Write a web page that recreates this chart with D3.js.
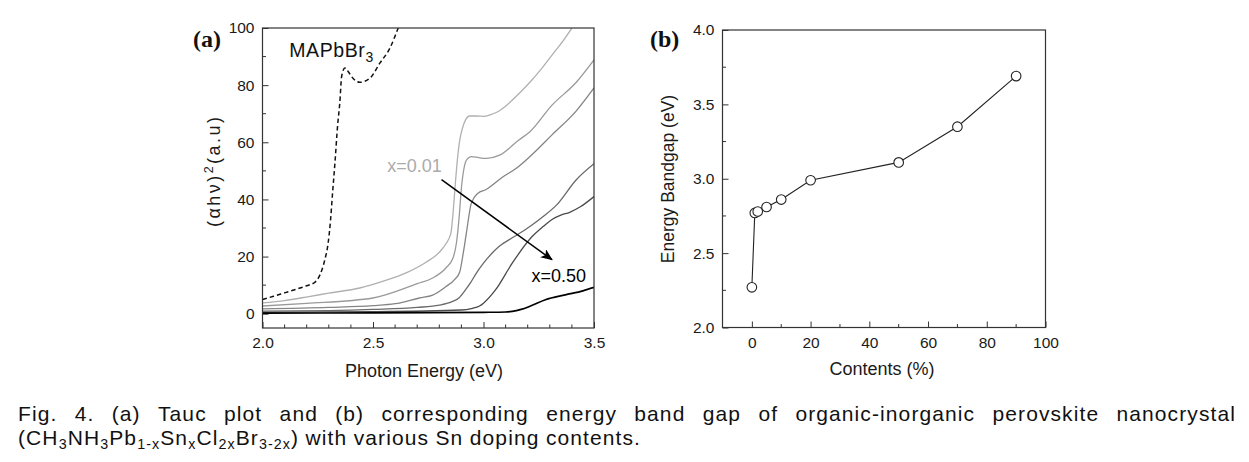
<!DOCTYPE html>
<html>
<head>
<meta charset="utf-8">
<script src="https://cdn.jsdelivr.net/npm/d3@7"></script>
<style>
  html, body { margin: 0; padding: 0; background: #fff; }
  svg { display: block; font-family: "Liberation Sans", Arial, Helvetica, sans-serif; }
</style>
</head>
<body>
<svg id="chart" width="1249" height="462"></svg>
<script>
// ---------------- DATA ----------------
// Panel (a): Tauc plot, photon energy (eV) vs (αhν)^2 (a.u.)
const mapbbr3E = [2.00, 2.05, 2.10, 2.15, 2.20, 2.237, 2.26, 2.282, 2.297, 2.308, 2.317, 2.328, 2.34, 2.35, 2.358, 2.373, 2.39, 2.403, 2.44, 2.486, 2.53, 2.576, 2.614];
const mapbbr3V = [5.0, 6.1, 7.3, 8.5, 9.8, 11.0, 13.6, 18.9, 24.7, 32.9, 42.2, 53.0, 66.0, 74.0, 83.0, 86.0, 84.5, 83.0, 81.0, 82.4, 87.6, 92.9, 100.0];

const sn001E = [2.00, 2.10, 2.21, 2.30, 2.44, 2.55, 2.65, 2.74, 2.80, 2.83, 2.852, 2.862, 2.872, 2.882, 2.892, 2.905, 2.92, 2.937, 2.97, 3.00, 3.03, 3.06, 3.105, 3.16, 3.21, 3.26, 3.31, 3.36, 3.40];
const sn001V = [3.8, 4.6, 6.0, 7.2, 9.0, 11.5, 14.3, 18.0, 21.5, 24.5, 28.0, 35.0, 45.0, 54.0, 60.5, 65.0, 68.0, 69.2, 69.2, 69.1, 69.6, 70.5, 73.0, 77.0, 81.0, 85.5, 90.5, 95.5, 100.0];

const sn002E = [2.00, 2.20, 2.50, 2.70, 2.77, 2.83, 2.862, 2.878, 2.89, 2.90, 2.912, 2.925, 2.945, 2.98, 3.013, 3.073, 3.16, 3.21, 3.31, 3.42, 3.50];
const sn002V = [2.7, 3.6, 5.5, 10.5, 12.5, 16.0, 19.5, 25.0, 34.0, 44.0, 51.0, 54.0, 55.0, 54.6, 54.4, 55.5, 60.8, 63.7, 73.0, 81.0, 88.8];

const sn005E = [2.00, 2.30, 2.50, 2.60, 2.71, 2.77, 2.83, 2.87, 2.892, 2.91, 2.923, 2.945, 2.975, 3.01, 3.09, 3.15, 3.21, 3.31, 3.42, 3.50];
const sn005V = [1.7, 2.2, 2.8, 3.5, 5.5, 6.5, 9.5, 12.0, 14.5, 22.0, 28.5, 38.7, 42.2, 43.4, 48.0, 51.0, 55.0, 62.6, 71.0, 79.0];

const sn010E = [2.00, 2.30, 2.50, 2.70, 2.80, 2.86, 2.89, 2.92, 2.94, 2.97, 3.00, 3.07, 3.14, 3.21, 3.27, 3.33, 3.42, 3.50];
const sn010V = [0.9, 1.1, 1.5, 2.2, 3.0, 4.3, 5.6, 8.5, 10.7, 14.5, 17.7, 23.5, 27.0, 30.5, 34.0, 38.0, 46.9, 52.5];

const sn020E = [2.00, 2.50, 2.90, 2.95, 2.98, 3.00, 3.055, 3.13, 3.22, 3.27, 3.31, 3.35, 3.39, 3.44, 3.50];
const sn020V = [0.5, 0.7, 1.3, 1.9, 2.6, 3.7, 8.4, 17.7, 27.0, 30.5, 33.0, 34.5, 35.5, 37.5, 41.0];

const sn050E = [2.00, 2.50, 3.00, 3.10, 3.13, 3.17, 3.21, 3.28, 3.37, 3.45, 3.50];
const sn050V = [0.2, 0.3, 0.5, 0.6, 0.8, 1.5, 2.6, 4.9, 6.6, 8.0, 9.2];

const seriesNames = ["x=0.01", "x=0.02", "x=0.05", "x=0.10", "x=0.20", "x=0.50"];

// Arrow (from x=0.01 label toward x=0.50 label) in data units
const arrowE = [2.81, 3.31];
const arrowV = [46.9, 18.9];

// Panel (b): Sn contents (%) vs energy bandgap (eV)
const contents = [0, 1, 2, 5, 10, 20, 50, 70, 90];
const bandgap  = [2.27, 2.77, 2.78, 2.81, 2.86, 2.99, 3.11, 3.35, 3.69];

// Tick values
const aXTicks = [2.0, 2.5, 3.0, 3.5];
const aXMinor = [2.1, 2.2, 2.3, 2.4, 2.6, 2.7, 2.8, 2.9, 3.1, 3.2, 3.3, 3.4];
const aYTicks = [0, 20, 40, 60, 80, 100];
const aYMinor = [10, 30, 50, 70, 90];
const bXTicks = [0, 20, 40, 60, 80, 100];
const bXMinor = [10, 30, 50, 70, 90];
const bYTicks = [2.0, 2.5, 3.0, 3.5, 4.0];
const bYMinor = [2.25, 2.75, 3.25, 3.75];

// ---------------- DRAW ----------------
const svg = d3.select("#chart");
const ink = "#1a1a1a";
const tickFont = 15.5;
const SANS = '"Liberation Sans", Arial, Helvetica, sans-serif';
const SERIF = '"Liberation Serif", "Times New Roman", serif';

// Panel A scales
const xA = d3.scaleLinear().domain([2.0, 3.5]).range([262.5, 594]);
const yA = d3.scaleLinear().domain([-5, 100]).range([328, 28]);
// Panel B scales
const xB = d3.scaleLinear().domain([-10, 100]).range([722.5, 1045.5]);
const yB = d3.scaleLinear().domain([2, 4]).range([327.5, 30]);

function styleAxis(g) {
  g.select(".domain").remove();
  g.selectAll(".tick line").attr("stroke", "#333").attr("stroke-width", 1);
  g.selectAll(".tick text").attr("fill", ink).style("font-size", tickFont + "px").style("font-family", SANS);
}

function drawFrame(x, y) {
  const [x0, x1] = x.range(), [y0, y1] = y.range();
  svg.append("rect").attr("x", x0).attr("y", y1).attr("width", x1 - x0).attr("height", y0 - y1)
    .attr("fill", "none").attr("stroke", "#333").attr("stroke-width", 1.2);
}

function drawAxes(x, y, xMaj, xMin, yMaj, yMin, xFmt, yFmt) {
  const [x0, x1] = x.range(), [y0, y1] = y.range();
  // minor ticks (inward)
  const g = svg.append("g").attr("stroke", "#333").attr("stroke-width", 1);
  g.selectAll("line.mx").data(xMin).join("line").attr("class", "mx")
    .attr("x1", d => x(d)).attr("x2", d => x(d)).attr("y1", y0).attr("y2", y0 - 3.5);
  g.selectAll("line.my").data(yMin).join("line").attr("class", "my")
    .attr("y1", d => y(d)).attr("y2", d => y(d)).attr("x1", x0).attr("x2", x0 + 3.5);
  // major
  svg.append("g").attr("transform", `translate(0,${y0})`)
    .call(d3.axisBottom(x).tickValues(xMaj).tickSize(-6).tickPadding(9).tickFormat(xFmt))
    .call(styleAxis);
  svg.append("g").attr("transform", `translate(${x0},0)`)
    .call(d3.axisLeft(y).tickValues(yMaj).tickSize(-6).tickPadding(8).tickFormat(yFmt))
    .call(styleAxis);
}

// ---------- Panel A ----------
drawAxes(xA, yA, aXTicks, aXMinor, aYTicks, aYMinor, d3.format(".1f"), d3.format("d"));

const defs = svg.append("defs");
defs.append("clipPath").attr("id", "clipA").append("rect")
  .attr("x", xA.range()[0]).attr("y", yA.range()[1])
  .attr("width", xA.range()[1] - xA.range()[0]).attr("height", yA.range()[0] - yA.range()[1]);
defs.append("marker").attr("id", "arrowHead")
  .attr("viewBox", "0 0 12 10").attr("refX", 11).attr("refY", 5)
  .attr("markerWidth", 12).attr("markerHeight", 10)
  .attr("markerUnits", "userSpaceOnUse").attr("orient", "auto")
  .append("path").attr("d", "M0,0 L12,5 L0,10 L3,5 Z").attr("fill", "#000");

const lineA = d3.line().x(d => xA(d[0])).y(d => yA(d[1])).curve(d3.curveMonotoneX);
const zip = (a, b) => a.map((v, i) => [v, b[i]]);

const plotA = svg.append("g").attr("clip-path", "url(#clipA)");
const snSeries = [
  { name: seriesNames[0], pts: zip(sn001E, sn001V), color: "#b0b0b0", w: 1.3 },
  { name: seriesNames[1], pts: zip(sn002E, sn002V), color: "#9a9a9a", w: 1.3 },
  { name: seriesNames[2], pts: zip(sn005E, sn005V), color: "#858585", w: 1.3 },
  { name: seriesNames[3], pts: zip(sn010E, sn010V), color: "#6a6a6a", w: 1.3 },
  { name: seriesNames[4], pts: zip(sn020E, sn020V), color: "#4a4a4a", w: 1.3 },
  { name: seriesNames[5], pts: zip(sn050E, sn050V), color: "#000000", w: 1.7 }
];
plotA.selectAll("path.sn").data(snSeries).join("path").attr("class", "sn")
  .attr("d", d => lineA(d.pts)).attr("fill", "none")
  .attr("stroke", d => d.color).attr("stroke-width", d => d.w);
plotA.append("path").attr("d", lineA(zip(mapbbr3E, mapbbr3V)))
  .attr("fill", "none").attr("stroke", "#111").attr("stroke-width", 1.5)
  .attr("stroke-dasharray", "4.5,3");

// arrow
svg.append("line")
  .attr("x1", xA(arrowE[0])).attr("y1", yA(arrowV[0]))
  .attr("x2", xA(arrowE[1])).attr("y2", yA(arrowV[1]))
  .attr("stroke", "#000").attr("stroke-width", 1.5).attr("marker-end", "url(#arrowHead)");

// labels in panel A
const mapLbl = svg.append("text").attr("x", xA(2.121)).attr("y", yA(90)).style("font-size", "19.5px")
  .attr("letter-spacing", 0.6).attr("fill", "#111");
mapLbl.append("tspan").text("MAPbBr");
mapLbl.append("tspan").text("3").style("font-size", "14px").attr("dy", 5);

svg.append("text").attr("x", xA(2.564)).attr("y", yA(49.7)).style("font-size", "18px")
  .attr("fill", "#ababab").text(seriesNames[0]);
svg.append("text").attr("x", xA(3.217)).attr("y", yA(11.2)).style("font-size", "18px")
  .attr("fill", "#000").text(seriesNames[5]);

drawFrame(xA, yA);

// axis titles A
svg.append("text").attr("x", 424).attr("y", 377)
  .attr("text-anchor", "middle").style("font-size", "18px").attr("fill", ink).text("Photon Energy (eV)");
const yTitleA = svg.append("text").attr("transform", `translate(220,172) rotate(-90)`)
  .attr("text-anchor", "middle").style("font-size", "18px").attr("fill", ink)
  .attr("textLength", 110).attr("lengthAdjust", "spacing");
yTitleA.append("tspan").text("(αhν)");
yTitleA.append("tspan").text("2").style("font-size", "12.5px").attr("dy", -7.5);
yTitleA.append("tspan").text("(a.u)").attr("dy", 7.5);

svg.append("text").attr("x", 193).attr("y", 47).style("font-family", SERIF)
  .style("font-weight", "bold").style("font-size", "24px").attr("fill", "#111").text("(a)");

// ---------- Panel B ----------
drawAxes(xB, yB, bXTicks, bXMinor, bYTicks, bYMinor, d3.format("d"), d3.format(".1f"));
drawFrame(xB, yB);

const ptsB = zip(contents, bandgap);
svg.append("path").attr("d", d3.line().x(d => xB(d[0])).y(d => yB(d[1]))(ptsB))
  .attr("fill", "none").attr("stroke", "#222").attr("stroke-width", 1.1);
svg.selectAll("circle.pt").data(ptsB).join("circle").attr("class", "pt")
  .attr("cx", d => xB(d[0])).attr("cy", d => yB(d[1])).attr("r", 4.8)
  .attr("fill", "#fff").attr("stroke", "#222").attr("stroke-width", 1.1);

svg.append("text").attr("x", 882).attr("y", 375)
  .attr("text-anchor", "middle").style("font-size", "18px").attr("fill", ink).text("Contents (%)");
svg.append("text").attr("transform", `translate(674,179) rotate(-90)`)
  .attr("text-anchor", "middle").style("font-size", "17.5px").attr("fill", ink).text("Energy Bandgap (eV)");
svg.append("text").attr("x", 650).attr("y", 47).style("font-family", SERIF)
  .style("font-weight", "bold").style("font-size", "24px").attr("fill", "#111").text("(b)");

// ---------- Caption ----------
const capSize = 21, capLeft = 18, capRight = 1236, line2Right = 641, capSX = 1.0, capLS = 1.1;
const capLine1 = ["Fig.", "4.", "(a)", "Tauc", "plot", "and", "(b)", "corresponding", "energy", "band", "gap", "of", "organic-inorganic", "perovskite", "nanocrystal"];
const capLine2 = [["(CH", false], ["3", true], ["NH", false], ["3", true], ["Pb", false], ["1-x", true], ["Sn", false], ["x", true],
                  ["Cl", false], ["2x", true], ["Br", false], ["3-2x", true], [") with various Sn doping contents.", false]];

const capG = svg.append("g").attr("transform", `translate(${capLeft},0) scale(${capSX},1)`);
const l2 = capG.append("text").attr("x", 0).attr("y", 445).style("font-size", capSize + "px")
  .attr("fill", "#111").attr("letter-spacing", capLS);
capLine2.forEach(([t, sub]) => {
  const ts = l2.append("tspan").text(t);
  if (sub) ts.style("font-size", (capSize * 0.68) + "px").attr("baseline-shift", "-0.3em");
});
const w2 = l2.node().getComputedTextLength();
const nSpaces = capLine2.reduce((s, d) => s + (d[0].match(/ /g) || []).length, 0);
const ws = ((line2Right - capLeft) / capSX - w2) / nSpaces;
l2.attr("word-spacing", ws);

const wordNodes = capLine1.map(w => capG.append("text").attr("y", 421).style("font-size", capSize + "px")
  .attr("fill", "#111").attr("letter-spacing", capLS).text(w));
const widths = wordNodes.map(n => n.node().getComputedTextLength());
const gap = ((capRight - capLeft) / capSX - d3.sum(widths)) / (capLine1.length - 1);
let cx = 0;
wordNodes.forEach((n, i) => { n.attr("x", cx); cx += widths[i] + gap; });
</script>
</body>
</html>
